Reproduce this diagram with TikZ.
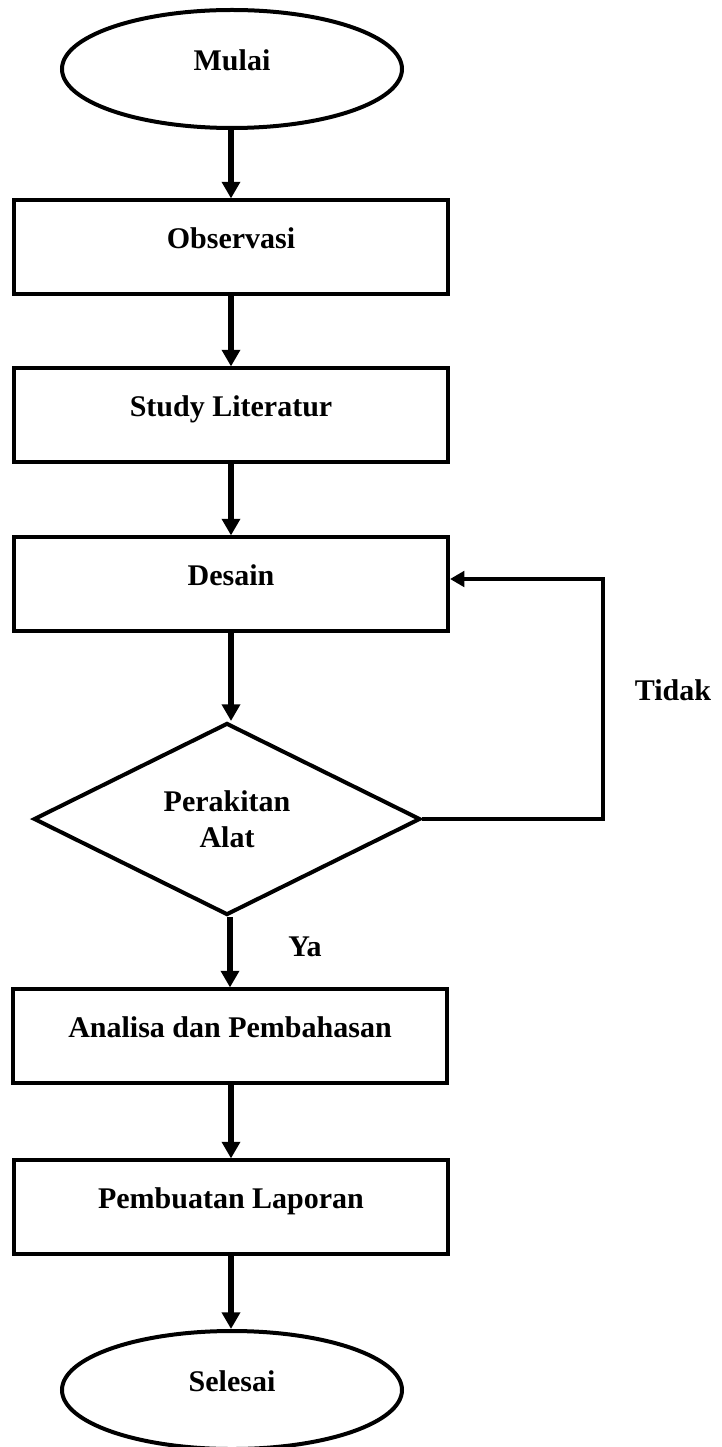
\documentclass[tikz,border=0pt]{standalone}
\usepackage{fontspec}
\setmainfont{Liberation Serif}
\usetikzlibrary{shapes.geometric,arrows.meta}
\tikzset{
  txt/.style={font=\fontsize{13.5}{16}\selectfont\bfseries},
  procbox/.style={txt,draw,line width=1.8pt,rectangle,minimum width=195.3pt,minimum height=41.9pt,inner sep=0pt,text height=9pt,text depth=8pt},
  term/.style={txt,draw,line width=1.8pt,ellipse,minimum width=153pt,minimum height=53.1pt,inner sep=0pt,text height=9pt,text depth=8pt},
  decide/.style={txt,draw,line width=1.8pt,diamond,aspect=2,minimum width=174pt,minimum height=86.4pt,inner sep=0pt,align=center},
  flow/.style={line width=2.3pt,-{Triangle[width=8pt,length=7.5pt]}},
  back/.style={line width=2pt,-{Triangle[width=7pt,length=6.5pt]}},
  lbl/.style={txt}
}
\begin{document}
\begin{tikzpicture}[x=0.45pt,y=-0.45pt]
\useasboundingbox (0,0) rectangle (721,1447);
\node[term] (mulai) at (232,69) {Mulai};
\node[procbox] (obs) at (231,247) {Observasi};
\node[procbox] (study) at (231,415) {Study Literatur};
\node[procbox] (desain) at (231,584) {Desain};
\node[decide] (rakit) at (227,819) {Perakitan\\Alat};
\node[procbox] (analisa) at (230,1036) {Analisa dan Pembahasan};
\node[procbox] (laporan) at (231,1207) {Pembuatan Laporan};
\node[term] (selesai) at (232,1390) {Selesai};
\coordinate (c1) at (603,819);
\coordinate (c2) at (603,579);
\node[lbl] (tidak) at (673,690) {Tidak};
\node[lbl] (ya) at (305,947) {Ya};

\draw[flow] (mulai.south -| obs.north) -- (obs.north);
\draw[flow] (obs.south) -- (study.north);
\draw[flow] (study.south) -- (desain.north);
\draw[flow] (desain.south) -- (desain.south |- rakit.north);
\draw[flow] (rakit.south -| analisa.north) -- (analisa.north);
\draw[flow] (analisa.south -| laporan.north) -- (laporan.north);
\draw[flow] (laporan.south) -- (laporan.south |- selesai.north);
\draw[back] (rakit.east) -- (c1) -- (c2) -- (desain.east |- c2);
\end{tikzpicture}
\end{document}
